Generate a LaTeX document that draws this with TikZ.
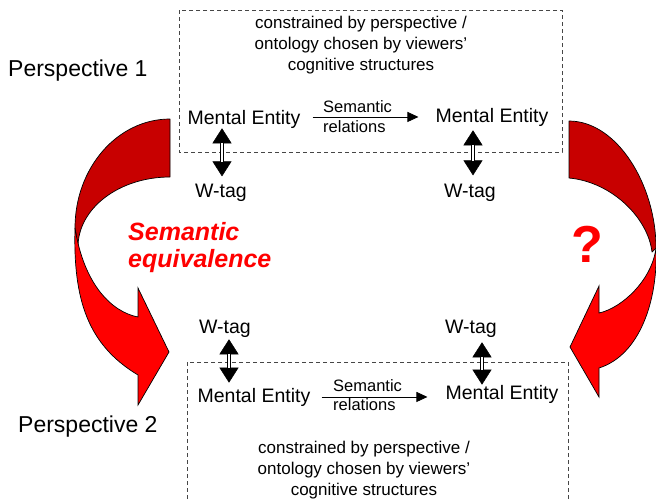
\documentclass[tikz,border=0pt]{standalone}
\usepackage{fontspec}
\setmainfont{Liberation Sans}
\usetikzlibrary{arrows.meta,calc}
\definecolor{backred}{RGB}{200,0,0}
\definecolor{frontred}{RGB}{255,0,0}
\definecolor{boxgray}{RGB}{70,70,70}
\begin{document}
\begin{tikzpicture}[x=1pt,y=-1pt,
  back/.style={fill=backred,draw=black,line width=0.7pt,line join=round},
  front/.style={fill=frontred,draw=black,line width=0.7pt,line join=miter},
  frame/.style={draw=boxgray,line width=0.8pt,dash pattern=on 4pt off 3pt},
  note/.style={font=\fontsize{17}{21}\selectfont,align=center,inner sep=0pt,anchor=north},
  entity/.style={font=\fontsize{19.5}{23}\selectfont,inner sep=0pt,anchor=base},
  tag/.style={font=\fontsize{19.5}{23}\selectfont,inner sep=0pt,anchor=base},
  persp/.style={font=\fontsize{23}{27}\selectfont,inner sep=0pt,anchor=base west},
  rel/.style={font=\fontsize{16.5}{20}\selectfont,inner sep=0pt,anchor=base west},
  relarrow/.style={line width=0.8pt,-{Triangle[length=11pt,width=10pt]}},
  dblarrow/.style={line width=0.5pt,{Triangle[length=15pt,width=19pt]}-{Triangle[length=15pt,width=19pt]},
     postaction={draw,-,double,double distance=2.5pt,line width=0.6pt,shorten >=14.7pt,shorten <=14.7pt}},
]
\useasboundingbox (0,0) rectangle (656,501);

% left curved arrow
\filldraw[back] (170,119) .. controls (117.5,119) and (75,167.8) .. (75,228)
  -- (78,247) .. controls (78,208.3) and (119.2,177) .. (170,177) -- cycle;
\filldraw[front] (75,228) .. controls (73,300) and (88,345) .. (138,375)
  -- (138,405) -- (169,352) -- (138,288) -- (138,317)
  .. controls (112,312) and (84,285) .. (75,228) -- cycle;

% right curved arrow
\filldraw[back] (569,121) .. controls (617,121) and (656,185) .. (656,248)
  -- (652,252) .. controls (648,218) and (612,182) .. (569,178) -- cycle;
\filldraw[front] (656,248) .. controls (658,300) and (640,355) .. (599,368)
  -- (599,397) -- (570,347) -- (599,286) -- (599,313)
  .. controls (622,308) and (652,280) .. (656,248) -- cycle;

% frames
\draw[frame] (179,10) rectangle (562,152);
\draw[frame] (187,362) rectangle (568,520);

% labels
\node[persp] (p1) at (8,76) {Perspective 1};
\node[persp] (p2) at (18,432) {Perspective 2};

\node[note] (n1) at (361,15.8) {constrained by perspective /\\ontology chosen by viewers'\\cognitive structures};
\node[note] (n2) at (364,440.8) {constrained by perspective /\\ontology chosen by viewers'\\cognitive structures};

\node[entity] (me1) at (244,124) {Mental Entity};
\node[entity] (me2) at (492,122) {Mental Entity};
\node[entity] (me3) at (254,402) {Mental Entity};
\node[entity] (me4) at (502,399) {Mental Entity};

\node[tag] (wt1) at (221,197) {W-tag};
\node[tag] (wt2) at (470,197) {W-tag};
\node[tag] (wt3) at (225,333) {W-tag};
\node[tag] (wt4) at (471,333) {W-tag};

\node[rel] (s1) at (323,112) {Semantic};
\node[rel] (r1) at (323,132) {relations};
\node[rel] (s2) at (333,391) {Semantic};
\node[rel] (r2) at (333,410) {relations};

\draw[relarrow] ($(me1.east)+(12,-2)$) -- ($(me2.west |- me1.east)+(-17,-2)$);
\draw[relarrow] ($(me3.east)+(11,0)$) -- ($(me4.west |- me3.east)+(-18,0)$);

\draw[dblarrow] ($(me1.south -| wt1)+(1,0)$) -- ($(wt1.north)+(1,-7)$);
\draw[dblarrow] ($(me2.south -| wt2)+(3,4)$) -- ($(wt2.north)+(3,-8)$);
\draw[dblarrow] ($(wt3.south)+(4,2)$) -- ($(me3.north -| wt3)+(4,-5)$);
\draw[dblarrow] ($(wt4.south)+(11,5)$) -- ($(me4.north -| wt4)+(11,0)$);

\node[font=\fontsize{25}{27}\selectfont\bfseries\itshape,text=frontred,align=left,inner sep=0pt,anchor=north west] (eq) at (128,222) {Semantic\\equivalence};
\node[font=\fontsize{52}{56}\selectfont\bfseries,text=frontred,inner sep=0pt] (q) at (587,244) {?};
\end{tikzpicture}
\end{document}
